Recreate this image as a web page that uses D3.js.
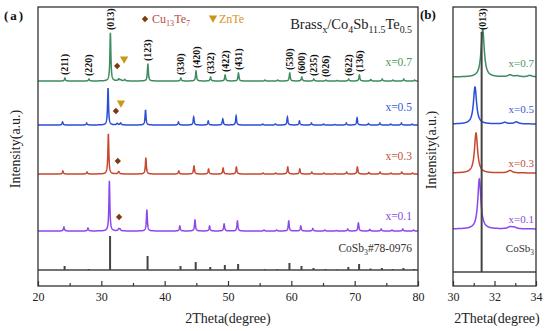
<!DOCTYPE html>
<html>
<head>
<meta charset="utf-8">
<script src="https://cdn.jsdelivr.net/npm/d3@7"></script>
<style>
  body { margin: 0; background: #fff; }
  svg { font-family: "Liberation Serif", "Times New Roman", serif; }
</style>
</head>
<body>
<svg id="chart" width="550" height="331"></svg>
<script>
// CoSb3 reflections (2theta, deg) and hkl labels shown above the x=0.7 pattern
const peakPos = [24.2, 28.0, 31.38, 37.3, 42.5, 44.9, 47.2, 49.5, 51.6, 55.8, 57.8, 59.7, 61.6, 63.5, 65.4, 67.2, 69.0, 70.7, 72.5, 74.3, 76.0, 77.7, 79.4];
const hklLabels = ['(211)', '(220)', '(013)', '(123)', '(330)', '(420)', '(332)', '(422)', '(431)', '', '', '(530)', '(600)', '(235)', '(026)', '', '(622)', '(136)', '', '', '', '', ''];

// peak heights (a.u.)
const refInt = [4, 1, 34, 14, 4, 8, 3, 5, 6, 0.8, 0.8, 7, 4, 2, 1, 0.5, 3, 6, 1.5, 2, 1, 2, 1];
const int01 = [4, 3, 50, 21, 5, 11, 5, 7, 10, 1, 1, 10, 5, 2.5, 1, 0.5, 2, 8, 1.5, 2, 1, 2, 1];
const int03 = [3, 2, 40, 16, 3, 8, 5, 6, 7, 1, 1, 7, 5, 2, 1, 0.5, 2, 7, 1.5, 2, 1, 2, 1];
const int05 = [3, 2, 37, 15, 3, 8, 4, 6, 9, 1, 1, 8, 4, 2, 1, 0.5, 2, 7, 1.5, 2, 1, 2, 1];
const int07 = [3, 2, 48, 17, 3, 10, 4, 6, 8, 1, 1, 8, 4, 2, 1, 0.5, 2, 6, 1.5, 2, 1, 2, 1];

// peak shift of each sample against CoSb3 (deg)
const shifts = [-0.11, -0.27, -0.32, 0.05];

// small impurity humps [2theta, height]
const bump01 = [[32.75, 2], [32.95, 1.5]];
const bump03 = [[32.75, 2.5]];
const bump05 = [[32.5, 1.5], [33.05, 2]];
const bump07 = [[32.75, 2], [33.1, 1], [33.7, 1.5]];

// phase markers [phase, 2theta, height above baseline]
const mark01 = [['Cu13Te7', 32.8, 14]];
const mark03 = [['Cu13Te7', 32.6, 13]];
const mark05 = [['Cu13Te7', 32.3, 14], ['ZnTe', 33.1, 22]];
const mark07 = [['Cu13Te7', 32.5, 15], ['ZnTe', 33.6, 22]];

const seriesNames = ['x=0.1', 'x=0.3', 'x=0.5', 'x=0.7'];
const ticksA = [20, 30, 40, 50, 60, 70, 80];
const minorA = [25, 35, 45, 55, 65, 75];
const ticksB = [30, 32, 34];
const minorB = [31, 33];

// ---- layout / style
const lineColors = ['#8a47ee', '#c5482f', '#2a4fd6', '#3b8c5e'];
const textColors = ['#8a4ae0', '#c0503a', '#3a5ad8', '#4a9a5a'];
const offA = [55, 112, 161, 205], refOffA = 16;
const offB = [57, 113, 162, 209], refOffB = 14;
const lblA = [11, 14, 14, 15], lblB = [6, 6, 11, 10];

const svg = d3.select('#chart');
const plotTop = 7, plotBottom = 286;
const y = d3.scaleLinear().domain([0, 279]).range([plotBottom, plotTop]);
const xa = d3.scaleLinear().domain([20, 80]).range([38, 418]);
const xb = d3.scaleLinear().domain([30, 34]).range([453, 536]);

const allInt = [int01, int03, int05, int07];
const allBump = [bump01, bump03, bump05, bump07];
const allMark = [mark01, mark03, mark05, mark07];

function pattern(i, from, to, step) {
  const peaks = peakPos.map((p, k) => [p + shifts[i], allInt[i][k], 0.09])
    .concat(allBump[i].map(b => [b[0], b[1], 0.12]));
  const pts = [];
  for (let t = from; t <= to + 1e-9; t += step) {
    let v = 0;
    peaks.forEach(([p, h, w]) => { const d = (t - p) / w; v += h / (1 + d * d); });
    pts.push([t, v]);
  }
  return pts;
}

function drawAxis(x, major, minor) {
  svg.append('g')
    .attr('transform', `translate(0,${plotBottom})`)
    .call(d3.axisBottom(x).tickValues(major).tickSize(-5).tickPadding(6).tickFormat(d3.format('d')))
    .call(g => g.select('.domain').remove())
    .call(g => g.selectAll('line').attr('stroke', '#333').attr('stroke-width', 1.2))
    .call(g => g.selectAll('text').attr('font-size', 12).attr('fill', '#222')
      .attr('font-family', '"Liberation Serif", serif'));
  svg.append('g')
    .attr('transform', `translate(0,${plotBottom})`)
    .call(d3.axisBottom(x).tickValues(minor).tickSize(-3).tickFormat(''))
    .call(g => g.select('.domain').remove())
    .call(g => g.selectAll('line').attr('stroke', '#333').attr('stroke-width', 1.2));
}

function drawMarker(g, type, cx, cy) {
  if (type === 'ZnTe') {
    g.append('path').attr('d', d3.symbol(d3.symbolTriangle, 30)())
      .attr('transform', `translate(${cx},${cy}) rotate(180)`).attr('fill', '#c9971a');
  } else {
    g.append('path').attr('d', d3.symbol(d3.symbolSquare, 20)())
      .attr('transform', `translate(${cx},${cy}) rotate(45)`).attr('fill', '#7b3a12');
  }
}

function subText(g, parts, size) {
  parts.forEach(([s, sub]) => {
    g.append('tspan').text(s)
      .attr('font-size', sub === 1 ? size * 0.68 : size)
      .attr('dy', sub === 1 ? size * 0.25 : sub === -1 ? -size * 0.25 : 0);
  });
}

// ================= panel (a)
const gA = svg.append('g');
const line = d3.line().x(d => xa(d[0]));

// CoSb3 reference sticks
gA.append('line').attr('x1', xa(20)).attr('x2', xa(80))
  .attr('y1', y(refOffA)).attr('y2', y(refOffA))
  .attr('stroke', '#444').attr('stroke-width', 1.5);
gA.selectAll('.stick').data(peakPos).enter().append('line')
  .attr('x1', d => xa(d)).attr('x2', d => xa(d))
  .attr('y1', y(refOffA)).attr('y2', (d, k) => y(refOffA + refInt[k]))
  .attr('stroke', '#444').attr('stroke-width', 2);

seriesNames.forEach((name, i) => {
  const pts = pattern(i, 20, 80, 0.02);
  gA.append('path').datum(pts)
    .attr('d', line.y(d => y(offA[i] + d[1])))
    .attr('fill', 'none').attr('stroke', lineColors[i]).attr('stroke-width', 1.5);
  gA.append('text').attr('x', 412).attr('y', y(offA[i]) - lblA[i])
    .attr('text-anchor', 'end').attr('font-size', 11.5).attr('fill', textColors[i]).text(name);
  allMark[i].forEach(m => drawMarker(gA, m[0], xa(m[1]), y(offA[i] + m[2])));
});

// hkl labels above x=0.7
hklLabels.forEach((lab, k) => {
  if (!lab) return;
  const px = xa(peakPos[k] + shifts[3]);
  const py = y(offA[3] + int07[k]) - 3;
  gA.append('text').attr('transform', `translate(${px},${py}) rotate(-90)`)
    .attr('dy', '0.35em').attr('font-size', 10).attr('font-weight', 'bold')
    .attr('fill', '#111').text(lab);
});

const refLbl = gA.append('text').attr('x', 412).attr('y', y(refOffA) - 18)
  .attr('text-anchor', 'end').attr('fill', '#333');
subText(refLbl, [['CoSb', 0], ['3', 1], ['#78-0976', -1]], 11.5);

const title = gA.append('text').attr('x', 412).attr('y', 29)
  .attr('text-anchor', 'end').attr('fill', '#222');
subText(title, [['Brass', 0], ['x', 1], ['/Co', -1], ['4', 1], ['Sb', -1], ['11.5', 1], ['Te', -1], ['0.5', 1]], 14.5);

// legend
drawMarker(gA, 'Cu13Te7', 145, 19);
const lg1 = gA.append('text').attr('x', 152).attr('y', 23).attr('fill', '#b5503a');
subText(lg1, [['Cu', 0], ['13', 1], ['Te', -1], ['7', 1]], 12);
drawMarker(gA, 'ZnTe', 213, 18);
gA.append('text').attr('x', 219).attr('y', 23).attr('font-size', 12).attr('fill', '#e0902a').text('ZnTe');

gA.append('rect').attr('x', xa(20)).attr('y', plotTop).attr('width', xa(80) - xa(20)).attr('height', plotBottom - plotTop)
  .attr('fill', 'none').attr('stroke', '#333').attr('stroke-width', 1.3);
drawAxis(xa, ticksA, minorA);

svg.append('text').attr('x', (xa(20) + xa(80)) / 2).attr('y', 323).attr('text-anchor', 'middle')
  .attr('font-size', 14).attr('fill', '#222').text('2Theta(degree)');
svg.append('text').attr('transform', 'translate(20,149) rotate(-90)').attr('text-anchor', 'middle')
  .attr('font-size', 14).attr('fill', '#222').text('Intensity(a.u.)');
svg.append('text').attr('x', 4).attr('y', 20).attr('font-size', 13).attr('font-weight', 'bold')
  .attr('letter-spacing', 2).attr('fill', '#111').text('(a)');

// ================= panel (b)
const gB = svg.append('g');
gB.append('defs').append('clipPath').attr('id', 'clipB').append('rect')
  .attr('x', xb(30)).attr('y', plotTop).attr('width', xb(34) - xb(30)).attr('height', plotBottom - plotTop);
const inner = gB.append('g').attr('clip-path', 'url(#clipB)');
const lineB = d3.line().x(d => xb(d[0]));

inner.append('line').attr('x1', xb(30)).attr('x2', xb(34))
  .attr('y1', y(refOffB)).attr('y2', y(refOffB))
  .attr('stroke', '#444').attr('stroke-width', 1.5);

seriesNames.forEach((name, i) => {
  const pts = pattern(i, 30, 34, 0.005);
  inner.append('path').datum(pts)
    .attr('d', lineB.y(d => y(offB[i] + d[1])))
    .attr('fill', 'none').attr('stroke', lineColors[i]).attr('stroke-width', 1.5);
  gB.append('text').attr('x', 534).attr('y', y(offB[i]) - lblB[i])
    .attr('text-anchor', 'end').attr('font-size', 11).attr('fill', textColors[i]).text(name);
});

// (013) reference line, drawn through all patterns
inner.append('line').attr('x1', xb(peakPos[2])).attr('x2', xb(peakPos[2]))
  .attr('y1', y(refOffB)).attr('y2', y(254))
  .attr('stroke', '#444').attr('stroke-width', 2);
gB.append('text').attr('transform', `translate(${xb(peakPos[2] + shifts[3])},30) rotate(-90)`)
  .attr('dy', '0.35em').attr('font-size', 10).attr('font-weight', 'bold').attr('fill', '#111').text('(013)');

const refB = gB.append('text').attr('x', 534).attr('y', y(refOffB) - 20)
  .attr('text-anchor', 'end').attr('fill', '#333');
subText(refB, [['CoSb', 0], ['3', 1]], 11);

gB.append('rect').attr('x', xb(30)).attr('y', plotTop).attr('width', xb(34) - xb(30)).attr('height', plotBottom - plotTop)
  .attr('fill', 'none').attr('stroke', '#333').attr('stroke-width', 1.3);
drawAxis(xb, ticksB, minorB);

svg.append('text').attr('x', 497).attr('y', 323).attr('text-anchor', 'middle')
  .attr('font-size', 14).attr('fill', '#222').text('2Theta(degree)');
svg.append('text').attr('transform', 'translate(436,150) rotate(-90)').attr('text-anchor', 'middle')
  .attr('font-size', 14).attr('fill', '#222').text('Intensity(a.u.)');
svg.append('text').attr('x', 420).attr('y', 19).attr('font-size', 13).attr('font-weight', 'bold')
  .attr('fill', '#111').text('(b)');
</script>
</body>
</html>
